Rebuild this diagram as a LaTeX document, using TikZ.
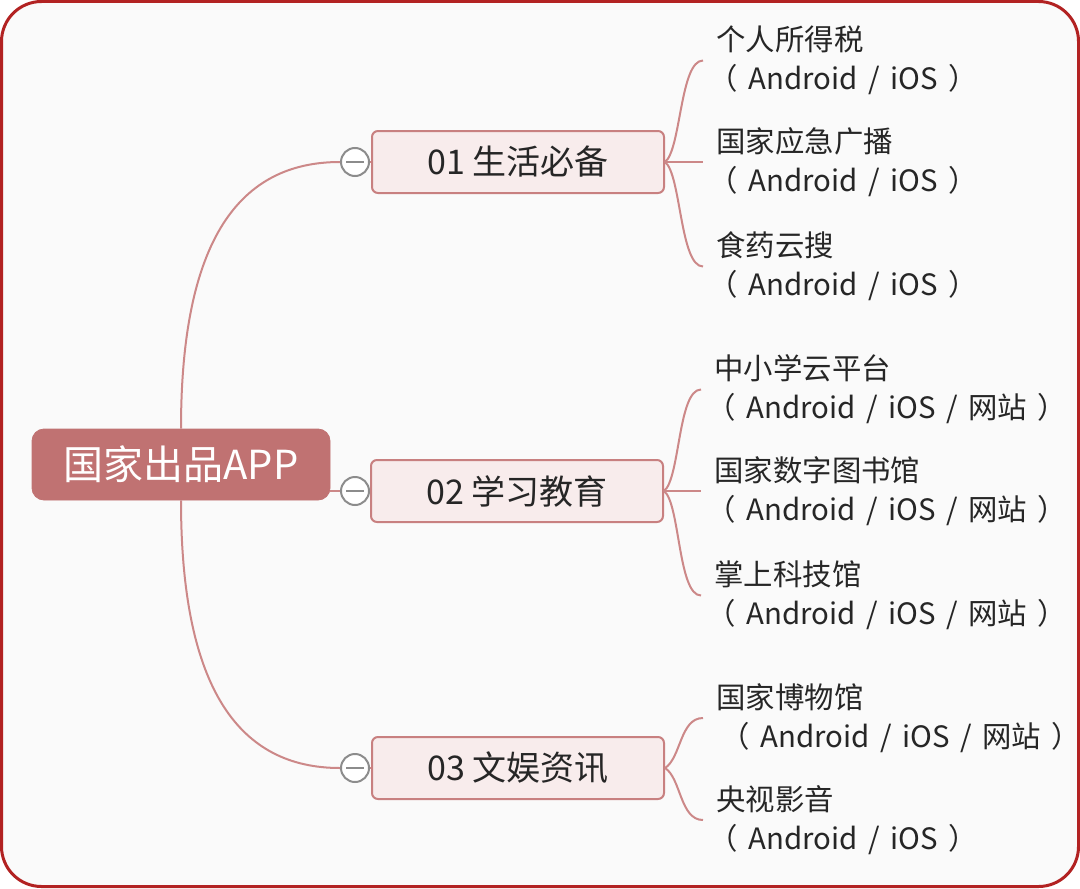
\documentclass[tikz,border=0pt]{standalone}
\usepackage{fontspec}
\newfontfamily\cjk{Noto Sans CJK SC}
\usetikzlibrary{calc}
\newcommand\leafspace{\spaceskip=5.3pt\relax}
\definecolor{framered}{RGB}{178,34,34}
\definecolor{paper}{RGB}{250,250,250}
\definecolor{rootfill}{RGB}{192,114,114}
\definecolor{branchfill}{RGB}{248,236,236}
\definecolor{branchline}{RGB}{200,128,128}
\definecolor{linkline}{RGB}{204,136,136}
\definecolor{foldgray}{RGB}{140,140,140}
\tikzset{
  rootbox/.style={draw=rootfill, fill=rootfill, rounded corners=6pt,
    minimum width=149pt, minimum height=35.5pt, text=white,
    font=\cjk\fontsize{20}{24}\selectfont},
  branchbox/.style={draw=branchline, line width=1pt, fill=branchfill,
    rounded corners=3pt, minimum width=146pt, minimum height=31pt,
    text=black!85, font=\cjk\fontsize{17}{20}\selectfont},
  foldmark/.style={circle, draw=foldgray, line width=1pt, fill=white,
    minimum size=14pt, inner sep=0pt,
    path picture={\draw[foldgray, line width=1pt]
      ([xshift=-4.5pt]path picture bounding box.center) --
      ([xshift=4.5pt]path picture bounding box.center);}},
  leaftext/.style={anchor=west, align=left, inner xsep=6.5pt, inner ysep=0pt,
    text=black!85, font=\cjk\fontsize{14.7}{20.5}\selectfont\leafspace},
  link/.style={draw=linkline, line width=1pt}
}
\begin{document}
\begin{tikzpicture}[x=0.5pt,y=-0.5pt]

% Frame
\draw[framered, line width=1.5pt, fill=paper, rounded corners=20pt]
  (1.5,1.5) rectangle (1078.5,886.5);
\useasboundingbox (0,0) rectangle (1080,888);

% Root
\node[rootbox] (root) at (181,464.5) {国家出品APP};

% Branches
\node[foldmark] (c1) at (355,162) {};
\node[branchbox] (b1) at (518,162) {01 生活必备};
\node[foldmark] (c2) at (355,491) {};
\node[branchbox] (b2) at (517,491) {02 学习教育};
\node[foldmark] (c3) at (355,768) {};
\node[branchbox] (b3) at (518,768) {03 文娱资讯};

% Leaves of 01
\node[leaftext] (l11) at (703,60.5) {个人所得税\\[-1pt]\hspace{-4pt}（ Android / iOS ）};
\node[leaftext] (l12) at (703,162) {国家应急广播\\[-1pt]\hspace{-4pt}（ Android / iOS ）};
\node[leaftext] (l13) at (703,266.5) {食药云搜\\[-1pt]\hspace{-4pt}（ Android / iOS ）};

% Leaves of 02
\node[leaftext] (l21) at (701,389.5) {中小学云平台\\[-1pt]\hspace{-4pt}（ Android / iOS / 网站 ）};
\node[leaftext] (l22) at (701,491) {国家数字图书馆\\[-1pt]\hspace{-4pt}（ Android / iOS / 网站 ）};
\node[leaftext] (l23) at (701,595.5) {掌上科技馆\\[-1pt]\hspace{-4pt}（ Android / iOS / 网站 ）};

% Leaves of 03
\node[leaftext] (l31) at (703,718) {国家博物馆\\[-1pt]\hspace{2pt}（ Android / iOS / 网站 ）};
\node[leaftext] (l32) at (703,820) {央视影音\\[-1pt]\hspace{-4pt}（ Android / iOS ）};

% Root links
\draw[link] (root.north) .. controls +(0,-190) and +(-100,0) .. (c1.west);
\draw[link] (root.east |- c2) -- (c2.west);
\draw[link] (root.south) .. controls +(0,190) and +(-100,0) .. (c3.west);
\foreach \i in {1,2,3}
  \draw[link] (c\i.east) -- (b\i.west);

% Leaf links
\draw[link] (b1.east) .. controls +(16,-12) and +(-23,0) .. (l11.west);
\draw[link] (b1.east) -- (l12.west);
\draw[link] (b1.east) .. controls +(16,12) and +(-23,0) .. (l13.west);
\draw[link] (b2.east) .. controls +(16,-12) and +(-23,0) .. (l21.west);
\draw[link] (b2.east) -- (l22.west);
\draw[link] (b2.east) .. controls +(16,12) and +(-23,0) .. (l23.west);
\draw[link] (b3.east) .. controls +(16,-10) and +(-23,0) .. (l31.west);
\draw[link] (b3.east) .. controls +(16,10) and +(-23,0) .. (l32.west);

\end{tikzpicture}
\end{document}
